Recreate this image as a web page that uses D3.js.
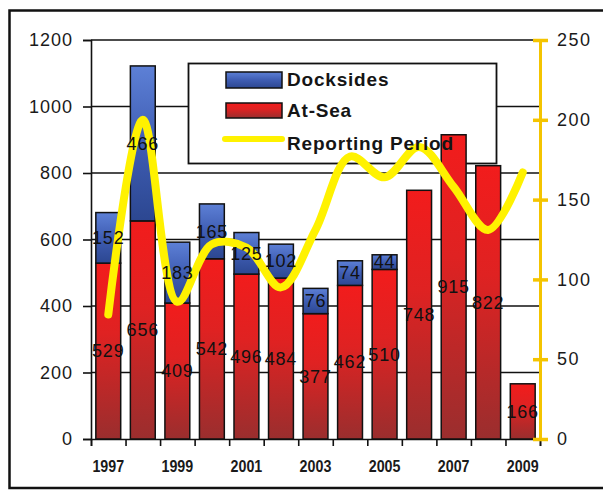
<!DOCTYPE html>
<html><head><meta charset="utf-8">
<script src="https://cdn.jsdelivr.net/npm/d3@7"></script>
<style>
html,body{margin:0;padding:0;background:#fff;}
svg{display:block;font-family:"Liberation Sans",Arial,Helvetica,sans-serif;}
</style>
</head><body>
<svg id="c" width="603" height="490"></svg>
<script>
// ---- data ----
const years = [1997,1998,1999,2000,2001,2002,2003,2004,2005,2006,2007,2008,2009];
const atSea = [529,656,409,542,496,484,377,462,510,748,915,822,166];
const docksides = [152,466,183,165,125,102,76,74,44,0,0,0,0];
const reportingPeriod = [78,200,86,122,120,95,131,177,164,183,158,131,167];
const leftTicks = [0,200,400,600,800,1000,1200];
const rightTicks = [0,50,100,150,200,250];
const xLabelYears = [1997,1999,2001,2003,2005,2007,2009];
const legendItems = ["Docksides","At-Sea","Reporting Period"];

// ---- layout ----
const L = 91, R = 540, T = 40, B = 439;
const svg = d3.select("#c");

const x = d3.scaleBand().domain(years).range([L, R]).paddingInner(0.28).paddingOuter(0.14);
const y = d3.scaleLinear().domain([0, 1200]).range([B, T]);
const y2 = d3.scaleLinear().domain([0, 250]).range([B, T]);

// gradients
const defs = svg.append("defs");
function grad(id, stops){
  const g = defs.append("linearGradient").attr("id", id).attr("x1",0).attr("y1",0).attr("x2",0).attr("y2",1);
  stops.forEach(s => g.append("stop").attr("offset", s[0]).attr("stop-color", s[1]));
}
grad("gRed", [[0,"#f21c1c"],[0.4,"#df2222"],[1,"#9a2e2e"]]);
grad("gBlue", [[0,"#5d80d6"],[0.5,"#3f5db3"],[1,"#2c4791"]]);

// outer frame
svg.append("path").attr("d", "M603,10.5H9.5V488H603").attr("fill","none").attr("stroke","#111").attr("stroke-width",2.5);

// gridlines
svg.append("g").selectAll("line").data(leftTicks.filter(d => d > 0)).join("line")
  .attr("x1", L).attr("x2", R).attr("y1", d => y(d)).attr("y2", d => y(d))
  .attr("stroke", "#111").attr("stroke-width", 1.6);

// left axis
const yAxis = d3.axisLeft(y).tickValues(leftTicks).tickSize(8).tickPadding(10).tickFormat(d3.format("d"));
const gy = svg.append("g").attr("transform", `translate(${L},0)`).call(yAxis);
gy.select(".domain").attr("stroke","#111").attr("stroke-width",1.6);
gy.selectAll(".tick line").attr("stroke","#111").attr("stroke-width",1.6);
gy.selectAll(".tick text").attr("font-size", 18).attr("fill","#1a1a1a").attr("letter-spacing","1px")
  .attr("font-family",'"Liberation Sans",Arial,sans-serif');

// bottom axis with ticks at band boundaries
const xb = d3.scaleLinear().domain([0, years.length]).range([L, R]);
const gx = svg.append("g").attr("transform", `translate(0,${B})`)
  .call(d3.axisBottom(xb).tickValues(d3.range(years.length + 1)).tickSize(7).tickFormat(""));
gx.select(".domain").attr("stroke","#111").attr("stroke-width",1.6);
gx.selectAll(".tick line").attr("stroke","#111").attr("stroke-width",1.6);

// x labels (condensed bold)
svg.append("g").selectAll("text").data(xLabelYears).join("text")
  .attr("transform", d => `translate(${x(d) + x.bandwidth()/2},472) scale(0.84,1)`)
  .attr("text-anchor","middle").attr("font-size",17).attr("font-weight","bold").attr("fill","#1a1a1a")
  .text(d => d);

// legend box & swatches (underneath bars & line)
const lg = svg.append("g");
lg.append("rect").attr("x",188.5).attr("y",63.5).attr("width",308).attr("height",100)
  .attr("fill","#fff").attr("stroke","#111").attr("stroke-width",1.8);
lg.append("rect").attr("x",226).attr("y",72).attr("width",56).attr("height",16)
  .attr("fill","url(#gBlue)").attr("stroke","#111").attr("stroke-width",1.5);
lg.append("rect").attr("x",226).attr("y",103).attr("width",56).attr("height",15)
  .attr("fill","url(#gRed)").attr("stroke","#111").attr("stroke-width",1.5);
lg.append("line").attr("x1",225).attr("x2",282).attr("y1",139).attr("y2",139)
  .attr("stroke","#fff200").attr("stroke-width",6).attr("stroke-linecap","round");

// bars
const bars = svg.append("g");
bars.selectAll("rect.sea").data(years).join("rect").attr("class","sea")
  .attr("x", d => x(d)).attr("width", x.bandwidth())
  .attr("y", (d,i) => y(atSea[i])).attr("height", (d,i) => y(0) - y(atSea[i]))
  .attr("fill","url(#gRed)").attr("stroke","#111").attr("stroke-width",1.5);
bars.selectAll("rect.dock").data(years.filter((d,i) => docksides[i] > 0)).join("rect").attr("class","dock")
  .attr("x", d => x(d)).attr("width", x.bandwidth())
  .attr("y", d => { const i = years.indexOf(d); return y(atSea[i] + docksides[i]); })
  .attr("height", d => { const i = years.indexOf(d); return y(atSea[i]) - y(atSea[i] + docksides[i]); })
  .attr("fill","url(#gBlue)").attr("stroke","#111").attr("stroke-width",1.5);

// right axis (yellow)
const gr = svg.append("g").attr("transform", `translate(${R},0)`)
  .call(d3.axisRight(y2).tickValues(rightTicks).tickSize(8).tickPadding(9));
gr.select(".domain").attr("stroke","#f4c400").attr("stroke-width",3);
gr.selectAll(".tick line").attr("stroke","#f4c400").attr("stroke-width",3.5).attr("x1",-7);
gr.selectAll(".tick text").attr("font-size",18).attr("fill","#1a1a1a").attr("letter-spacing","1.5px")
  .attr("font-family",'"Liberation Sans",Arial,sans-serif');

// reporting period line
const line = d3.line()
  .x((d,i) => x(years[i]) + x.bandwidth()/2)
  .y(d => y2(d))
  .curve(d3.curveCatmullRom.alpha(0.5));
svg.append("path").datum(reportingPeriod).attr("d", line)
  .attr("fill","none").attr("stroke","#fff200").attr("stroke-width",8)
  .attr("stroke-linecap","round").attr("stroke-linejoin","round");

// legend text on top
svg.append("g").selectAll("text").data(legendItems).join("text")
  .attr("x",287).attr("y",(d,i) => [86,117,150][i])
  .attr("font-size",19).attr("font-weight","bold").attr("letter-spacing","0.8px").attr("fill","#151515")
  .text(d => d);

// value labels
const lab = svg.append("g").attr("font-size",18).attr("fill","#111").attr("text-anchor","middle").attr("letter-spacing","0.8px");
lab.selectAll("text.s").data(years).join("text").attr("class","s")
  .attr("x", d => x(d) + x.bandwidth()/2)
  .attr("y", (d,i) => y(atSea[i]/2)).attr("dy","0.35em")
  .text((d,i) => atSea[i]);
lab.selectAll("text.d").data(years.filter((d,i) => docksides[i] > 0)).join("text").attr("class","d")
  .attr("x", d => x(d) + x.bandwidth()/2)
  .attr("y", d => { const i = years.indexOf(d); return y(atSea[i] + docksides[i]/2); }).attr("dy","0.35em")
  .text(d => docksides[years.indexOf(d)]);
</script>
</body></html>
